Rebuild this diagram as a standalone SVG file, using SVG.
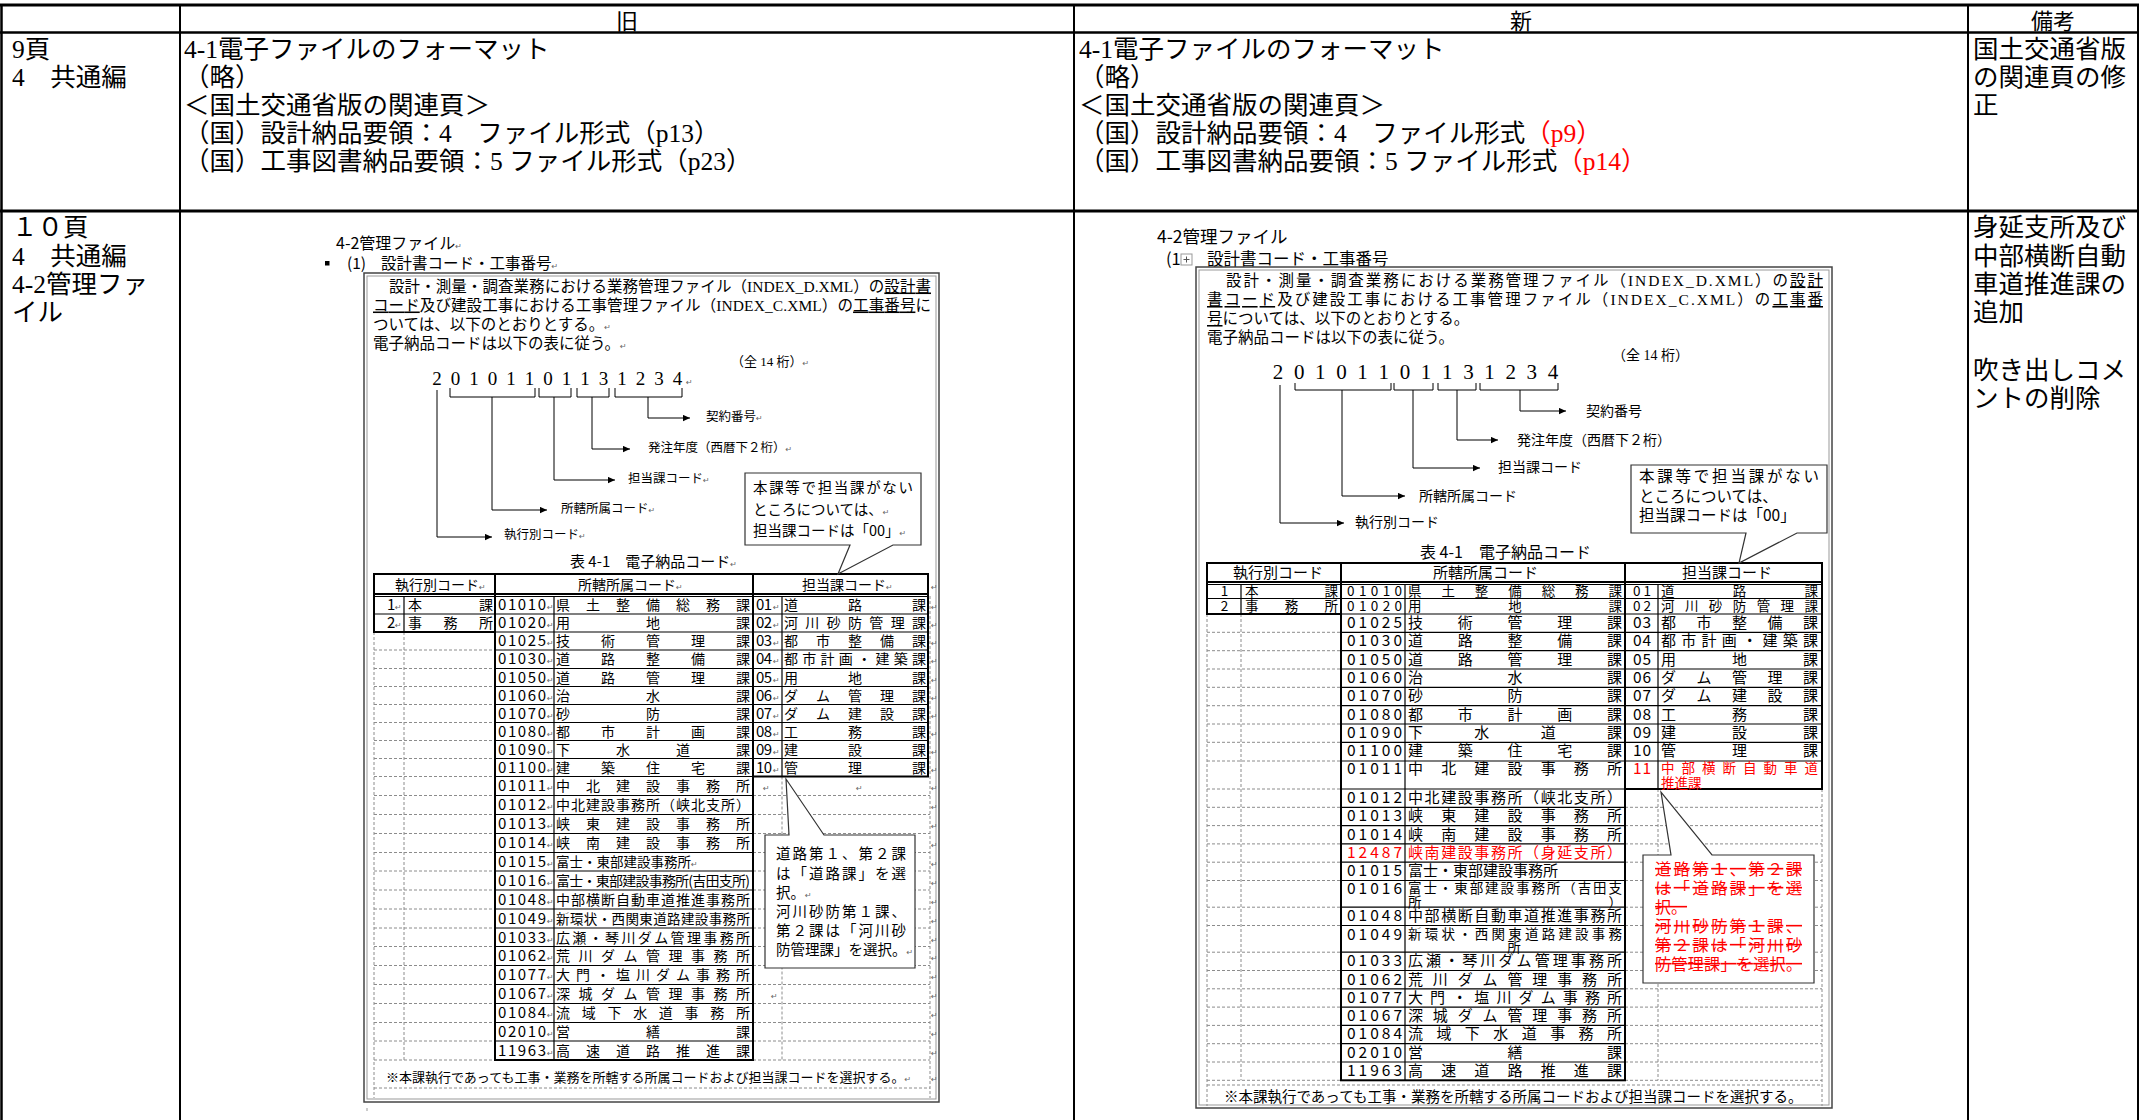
<svg xmlns="http://www.w3.org/2000/svg" width="2139" height="1120" viewBox="0 0 2139 1120">
<defs>
<style>
.m{font-family:"Liberation Serif","Noto Sans CJK JP",serif;font-size:25.5px;fill:#000}
.h{font-family:"Liberation Serif","Noto Sans CJK JP",serif;font-size:22px;text-anchor:middle;fill:#000}
.p{font-family:"Liberation Serif","Noto Sans CJK JP",serif;fill:#000}
.g{font-family:"Noto Sans CJK JP",sans-serif;fill:#000}
.red{fill:#ff0000}
.rt{font-family:"DejaVu Sans","Noto Sans CJK JP",sans-serif;font-size:8px;fill:#666}
.ln{stroke:#000;fill:none}
.ds{stroke:#8c8c8c;stroke-width:1;stroke-dasharray:3 2;fill:none}
.ul{text-decoration:underline}
.st{text-decoration:line-through}
.co{fill:#fff;stroke:#333;stroke-width:1.2}
.oc{font-size:15px}
.nc{font-size:15.5px}
.sm{font-size:13.5px}
.tp{font-size:13.5px}
</style>
<marker id="ah" viewBox="0 0 10 10" refX="10" refY="5" markerWidth="8" markerHeight="7" markerUnits="userSpaceOnUse" orient="auto"><path d="M0,0.5 L10,5 L0,9.5 z" fill="#000"/></marker>
</defs>
<rect x="0" y="0" width="2139" height="1120" fill="#fff"/>

<g id="table-frame" class="ln">
<line x1="0" y1="5" x2="2139" y2="5" stroke-width="3"/>
<line x1="0" y1="32.5" x2="2139" y2="32.5" stroke-width="2.5"/>
<line x1="0" y1="211" x2="2139" y2="211" stroke-width="3"/>
<line x1="1.5" y1="5" x2="1.5" y2="1120" stroke-width="2.5"/>
<line x1="180" y1="5" x2="180" y2="1120" stroke-width="2"/>
<line x1="1074" y1="5" x2="1074" y2="1120" stroke-width="2"/>
<line x1="1968" y1="5" x2="1968" y2="1120" stroke-width="2"/>
<line x1="2138" y1="5" x2="2138" y2="1120" stroke-width="2"/>
</g>

<g id="header">
<text class="h" x="627" y="29">旧</text>
<text class="h" x="1521" y="29">新</text>
<text class="h" x="2053" y="29">備考</text>
</g>

<g id="row1-page">
<text class="m" x="12" y="58">9頁</text>
<text class="m" x="12" y="86">4　共通編</text>
</g>
<g id="row1-old">
<text class="m" x="184" y="58">4-1電子ファイルのフォーマット</text>
<text class="m" x="184" y="86">（略）</text>
<text class="m" x="184" y="114">＜国土交通省版の関連頁＞</text>
<text class="m" x="184" y="142">（国）設計納品要領：4　ファイル形式（p13）</text>
<text class="m" x="184" y="170">（国）工事図書納品要領：5 ファイル形式（p23）</text>
</g>
<g id="row1-new">
<text class="m" x="1079" y="58">4-1電子ファイルのフォーマット</text>
<text class="m" x="1079" y="86">（略）</text>
<text class="m" x="1079" y="114">＜国土交通省版の関連頁＞</text>
<text class="m" x="1079" y="142">（国）設計納品要領：4　ファイル形式<tspan class="red">（p9）</tspan></text>
<text class="m" x="1079" y="170">（国）工事図書納品要領：5 ファイル形式<tspan class="red">（p14）</tspan></text>
</g>
<g id="row1-note">
<text class="m" x="1973" y="58">国土交通省版</text>
<text class="m" x="1973" y="86">の関連頁の修</text>
<text class="m" x="1973" y="114">正</text>
</g>

<g id="row2-page">
<text class="m" x="12" y="236">１０頁</text>
<text class="m" x="12" y="265">4　共通編</text>
<text class="m" x="12" y="293">4-2管理ファ</text>
<text class="m" x="12" y="321">イル</text>
</g>
<g id="row2-note">
<text class="m" x="1973" y="236">身延支所及び</text>
<text class="m" x="1973" y="265">中部横断自動</text>
<text class="m" x="1973" y="293">車道推進課の</text>
<text class="m" x="1973" y="321">追加</text>
<text class="m" x="1973" y="379">吹き出しコメ</text>
<text class="m" x="1973" y="407">ントの削除</text>
</g>

<!-- ================= OLD embedded figure ================= -->
<g id="old-figure">
<text class="g" x="336" y="248.5" font-size="16">4-2管理ファイル<tspan class="rt">↵</tspan></text>
<rect x="325" y="261" width="4.5" height="4.5" fill="#000"/>
<text class="g" x="347" y="269" font-size="15.5">(1)</text>
<text class="g" x="381" y="269" font-size="15.5">設計書コード・工事番号<tspan class="rt">↵</tspan></text>
<rect x="364" y="273" width="575" height="829" fill="none" stroke="#444" stroke-width="1.5"/>
<rect x="367" y="276" width="569" height="823" fill="none" stroke="#999" stroke-width="1"/>
<g font-size="15.5">
<text class="p" x="389" y="291.5" textLength="542">設計・測量・調査業務における業務管理ファイル（INDEX_D.XML）の<tspan class="ul">設計書</tspan></text>
<text class="p" x="373" y="310.5" textLength="558"><tspan class="ul">コード</tspan>及び建設工事における工事管理ファイル（INDEX_C.XML）の<tspan class="ul">工事番号</tspan>に</text>
<text class="p" x="373" y="330">ついては、以下のとおりとする。<tspan class="rt">↵</tspan></text>
<text class="p" x="373" y="349">電子納品コードは以下の表に従う。<tspan class="rt">↵</tspan></text>
</g>
<text class="p" x="731" y="366" font-size="13">（全 14 桁）<tspan class="rt">↵</tspan></text>
<g class="p" font-size="19" text-anchor="middle">
<text x="437" y="385">2</text><text x="455.5" y="385">0</text><text x="474" y="385">1</text><text x="492.5" y="385">0</text><text x="511" y="385">1</text><text x="529.5" y="385">1</text><text x="548" y="385">0</text><text x="566.5" y="385">1</text><text x="585" y="385">1</text><text x="603.5" y="385">3</text><text x="622" y="385">1</text><text x="640.5" y="385">2</text><text x="659" y="385">3</text><text x="677.5" y="385">4</text>
</g>
<text class="rt" x="686" y="385">↵</text>
<g class="g" font-size="12.5">
<text x="706" y="420.5">契約番号<tspan class="rt">↵</tspan></text>
<text x="648" y="451.5">発注年度（西暦下２桁）<tspan class="rt">↵</tspan></text>
<text x="628" y="482.5">担当課コード<tspan class="rt">↵</tspan></text>
<text x="561" y="512.5">所轄所属コード<tspan class="rt">↵</tspan></text>
<text x="504" y="539">執行別コード<tspan class="rt">↵</tspan></text>
</g>
<text class="g" x="570" y="567" font-size="15">表 4-1　電子納品コード<tspan class="rt">↵</tspan></text>
</g>

<g id="old-connectors" class="ln" stroke-width="1">
<path d="M450,388 V397 H535 V388"/>
<path d="M539,388 V397 H571 V388"/>
<path d="M577,388 V397 H609 V388"/>
<path d="M615,388 V397 H682 V388"/>
<path d="M437,390 V537 H492" marker-end="url(#ah)"/>
<path d="M492,397 V510 H547" marker-end="url(#ah)"/>
<path d="M554,397 V480 H615" marker-end="url(#ah)"/>
<path d="M592,397 V449 H630" marker-end="url(#ah)"/>
<path d="M648,397 V418 H690" marker-end="url(#ah)"/>
</g>

<g id="old-table-dashed">
<path class="ds" d="M374,650H495M374,668.5H495M374,686.5H495M374,704.5H495M374,722.5H495M374,740.5H495M374,758.5H495M374,776.5H495M374,795.5H495M374,814.5H495M374,833.5H495M374,852.5H495M374,871H495M374,890H495M374,909H495M374,928H495M374,946.5H495M374,965.5H495M374,984.5H495M374,1003.5H495M374,1022.5H495M374,1041H495M374,1060H495M374,1088H930"/>
<path class="ds" d="M753,795.5H930M753,814.5H930M753,833.5H930M753,852.5H930M753,871H930M753,890H930M753,909H930M753,928H930M753,946.5H930M753,965.5H930M753,984.5H930M753,1003.5H930M753,1022.5H930M753,1041H930M753,1060H930"/>
<path class="ds" d="M374,632V1098M404,632V1060M782,776.5V1060M930,596V1098"/>
</g>
<g id="old-table-solid" class="ln">
<rect x="374" y="574" width="554" height="20" stroke-width="2"/>
<line x1="374" y1="596.5" x2="928" y2="596.5" stroke-width="1.2"/>
<rect x="495" y="574" width="258" height="486" stroke-width="2"/>
<rect x="753" y="574" width="175" height="202.5" stroke-width="2"/>
<rect x="374" y="574" width="121" height="58" stroke-width="2"/>
<path stroke-width="1.2" d="M374,614H495M404,596V632M554,596V1060M782,596V776.5"/>
<path stroke-width="1.2" d="M495,614H753M495,632H753M495,650H753M495,668.5H753M495,686.5H753M495,704.5H753M495,722.5H753M495,740.5H753M495,758.5H753M495,776.5H753M495,795.5H753M495,814.5H753M495,833.5H753M495,852.5H753M495,871H753M495,890H753M495,909H753M495,928H753M495,946.5H753M495,965.5H753M495,984.5H753M495,1003.5H753M495,1022.5H753M495,1041H753"/>
<path stroke-width="1.2" d="M753,614H928M753,632H928M753,650H928M753,668.5H928M753,686.5H928M753,704.5H928M753,722.5H928M753,740.5H928M753,758.5H928"/>
</g>

<g id="old-table-text" class="g" font-size="14">
<text x="395" y="589.5">執行別コード<tspan class="rt">↵</tspan></text>
<text x="578" y="589.5">所轄所属コード<tspan class="rt">↵</tspan></text>
<text x="802" y="589.5">担当課コード<tspan class="rt">↵</tspan></text>
<text class="oc" x="387" y="610">1</text><text class="rt" x="395" y="610">↵</text><text x="408" y="610" textLength="85">本課</text>
<text class="oc" x="387" y="628">2</text><text class="rt" x="395" y="628">↵</text><text x="408" y="628" textLength="85">事務所</text>

<text class="oc" x="498" y="610" textLength="48">01010</text><text x="556" y="610" textLength="194">県土整備総務課</text>
<text class="oc" x="498" y="628" textLength="48">01020</text><text x="556" y="628" textLength="194">用地課</text>
<text class="oc" x="498" y="646" textLength="48">01025</text><text x="556" y="646" textLength="194">技術管理課</text>
<text class="oc" x="498" y="664" textLength="48">01030</text><text x="556" y="664" textLength="194">道路整備課</text>
<text class="oc" x="498" y="682.5" textLength="48">01050</text><text x="556" y="682.5" textLength="194">道路管理課</text>
<text class="oc" x="498" y="700.5" textLength="48">01060</text><text x="556" y="700.5" textLength="194">治水課</text>
<text class="oc" x="498" y="718.5" textLength="48">01070</text><text x="556" y="718.5" textLength="194">砂防課</text>
<text class="oc" x="498" y="736.5" textLength="48">01080</text><text x="556" y="736.5" textLength="194">都市計画課</text>
<text class="oc" x="498" y="754.5" textLength="48">01090</text><text x="556" y="754.5" textLength="194">下水道課</text>
<text class="oc" x="498" y="772.5" textLength="48">01100</text><text x="556" y="772.5" textLength="194">建築住宅課</text>
<text class="oc" x="498" y="791" textLength="48">01011</text><text x="556" y="791" textLength="194">中北建設事務所</text>
<text class="oc" x="498" y="810" textLength="48">01012</text><text x="556" y="810" textLength="194">中北建設事務所（峡北支所）</text>
<text class="oc" x="498" y="829" textLength="48">01013</text><text x="556" y="829" textLength="194">峡東建設事務所</text>
<text class="oc" x="498" y="848" textLength="48">01014</text><text x="556" y="848" textLength="194">峡南建設事務所</text>
<text class="oc" x="498" y="867" textLength="48">01015</text><text x="556" y="867" font-size="13.5">富士・東部建設事務所<tspan class="rt">↵</tspan></text>
<text class="oc" x="498" y="885.5" textLength="48">01016</text><text x="556" y="885.5" textLength="194">富士・東部建設事務所(吉田支所)</text>
<text class="oc" x="498" y="904.5" textLength="48">01048</text><text x="556" y="904.5" textLength="194">中部横断自動車道推進事務所</text>
<text class="oc" x="498" y="923.5" textLength="48">01049</text><text x="556" y="923.5" textLength="194" font-size="13.5">新環状・西関東道路建設事務所</text>
<text class="oc" x="498" y="942.5" textLength="48">01033</text><text x="556" y="942.5" textLength="194">広瀬・琴川ダム管理事務所</text>
<text class="oc" x="498" y="961" textLength="48">01062</text><text x="556" y="961" textLength="194">荒川ダム管理事務所</text>
<text class="oc" x="498" y="980" textLength="48">01077</text><text x="556" y="980" textLength="194">大門・塩川ダム事務所</text>
<text class="oc" x="498" y="999" textLength="48">01067</text><text x="556" y="999" textLength="194">深城ダム管理事務所</text>
<text class="oc" x="498" y="1018" textLength="48">01084</text><text x="556" y="1018" textLength="194">流域下水道事務所</text>
<text class="oc" x="498" y="1037" textLength="48">02010</text><text x="556" y="1037" textLength="194">営繕課</text>
<text class="oc" x="498" y="1055.5" textLength="48">11963</text><text x="556" y="1055.5" textLength="194">高速道路推進課</text>

<text class="oc" x="756" y="610" textLength="16">01</text><text x="784" y="610" textLength="142">道路課</text>
<text class="oc" x="756" y="628" textLength="16">02</text><text x="784" y="628" textLength="142">河川砂防管理課</text>
<text class="oc" x="756" y="646" textLength="16">03</text><text x="784" y="646" textLength="142">都市整備課</text>
<text class="oc" x="756" y="664" textLength="16">04</text><text x="784" y="664" textLength="142">都市計画・建築課</text>
<text class="oc" x="756" y="682.5" textLength="16">05</text><text x="784" y="682.5" textLength="142">用地課</text>
<text class="oc" x="756" y="700.5" textLength="16">06</text><text x="784" y="700.5" textLength="142">ダム管理課</text>
<text class="oc" x="756" y="718.5" textLength="16">07</text><text x="784" y="718.5" textLength="142">ダム建設課</text>
<text class="oc" x="756" y="736.5" textLength="16">08</text><text x="784" y="736.5" textLength="142">工務課</text>
<text class="oc" x="756" y="754.5" textLength="16">09</text><text x="784" y="754.5" textLength="142">建設課</text>
<text class="oc" x="756" y="772.5" textLength="16">10</text><text x="784" y="772.5" textLength="142">管理課</text>
<text x="386" y="1081.5" font-size="13">※本課執行であっても工事・業務を所轄する所属コードおよび担当課コードを選択する。<tspan class="rt">↵</tspan></text>
</g>
<g id="old-table-marks" class="rt">
<text x="547" y="610">↵</text><text x="547" y="628">↵</text><text x="547" y="646">↵</text><text x="547" y="664">↵</text><text x="547" y="682.5">↵</text><text x="547" y="700.5">↵</text><text x="547" y="718.5">↵</text><text x="547" y="736.5">↵</text><text x="547" y="754.5">↵</text><text x="547" y="772.5">↵</text><text x="547" y="791">↵</text><text x="547" y="810">↵</text><text x="547" y="829">↵</text><text x="547" y="848">↵</text><text x="547" y="867">↵</text><text x="547" y="885.5">↵</text><text x="547" y="904.5">↵</text><text x="547" y="923.5">↵</text><text x="547" y="942.5">↵</text><text x="547" y="961">↵</text><text x="547" y="980">↵</text><text x="547" y="999">↵</text><text x="547" y="1018">↵</text><text x="547" y="1037">↵</text><text x="547" y="1055.5">↵</text>
<text x="773" y="610">↵</text><text x="773" y="628">↵</text><text x="773" y="646">↵</text><text x="773" y="664">↵</text><text x="773" y="682.5">↵</text><text x="773" y="700.5">↵</text><text x="773" y="718.5">↵</text><text x="773" y="736.5">↵</text><text x="773" y="754.5">↵</text><text x="773" y="772.5">↵</text>
<text x="763" y="791">↵</text><text x="856" y="791">↵</text><text x="771" y="999">↵</text>
<text x="931" y="589.5">↵</text><text x="931" y="610">↵</text><text x="931" y="628">↵</text><text x="931" y="646">↵</text><text x="931" y="664">↵</text><text x="931" y="682.5">↵</text><text x="931" y="700.5">↵</text><text x="931" y="718.5">↵</text><text x="931" y="736.5">↵</text><text x="931" y="754.5">↵</text><text x="931" y="772.5">↵</text><text x="931" y="791">↵</text><text x="931" y="810">↵</text><text x="931" y="829">↵</text><text x="931" y="848">↵</text><text x="931" y="867">↵</text><text x="931" y="885.5">↵</text><text x="931" y="904.5">↵</text><text x="931" y="923.5">↵</text><text x="931" y="942.5">↵</text><text x="931" y="961">↵</text><text x="931" y="980">↵</text><text x="931" y="999">↵</text><text x="931" y="1018">↵</text><text x="931" y="1037">↵</text><text x="931" y="1055.5">↵</text><text x="931" y="1081.5">↵</text>
</g>
<line x1="367" y1="1108" x2="367" y2="1111" stroke="#999" stroke-width="1"/>

<g id="old-callout-1">
<path class="co" d="M745,473 H921 V545 H893 L838,574 L850,545 H745 Z"/>
<g class="g" font-size="14.5">
<text x="753" y="493" textLength="160">本課等で担当課がない</text>
<text x="753" y="515">ところについては、<tspan class="rt">↵</tspan></text>
<text x="753" y="536">担当課コードは「00」<tspan class="rt">↵</tspan></text>
</g>
</g>
<g id="old-callout-2">
<path class="co" d="M765,835 H789 L786,779 L824,835 H915 V968 H765 Z"/>
<g class="g" font-size="14.5">
<text x="776" y="858.5" textLength="130">道路第１、第２課</text>
<text x="776" y="878.5" textLength="130">は「道路課」を選</text>
<text x="776" y="897.5">択。<tspan class="rt">↵</tspan></text>
<text x="776" y="916.5" textLength="130">河川砂防第１課、</text>
<text x="776" y="935.5" textLength="130">第２課は「河川砂</text>
<text x="776" y="954.5">防管理課」を選択。<tspan class="rt">↵</tspan></text>
</g>
</g>

<!-- ================= NEW embedded figure ================= -->
<g id="new-figure">
<text class="g" x="1157" y="243" font-size="17.5">4-2管理ファイル</text>
<text class="g" x="1166" y="265" font-size="16.5">(1</text>
<rect x="1181" y="254" width="11" height="11" fill="#fff" stroke="#999" stroke-width="1"/>
<path d="M1186.5,256.5V262.5M1183.5,259.5H1189.5" stroke="#555" stroke-width="1"/>
<text class="g" x="1207" y="265" font-size="16.5">設計書コード・工事番号</text>
<rect x="1196" y="267" width="636" height="841" fill="none" stroke="#444" stroke-width="1.5"/>
<rect x="1199" y="270" width="630" height="835" fill="none" stroke="#999" stroke-width="1"/>
<g font-size="15.5">
<text class="p" x="1226" y="285.5" textLength="597">設計・測量・調査業務における業務管理ファイル（INDEX_D.XML）の<tspan class="ul">設計</tspan></text>
<text class="p" x="1207" y="305" textLength="616"><tspan class="ul">書コード</tspan>及び建設工事における工事管理ファイル（INDEX_C.XML）の<tspan class="ul">工事番</tspan></text>
<text class="p" x="1207" y="324"><tspan class="ul">号</tspan>については、以下のとおりとする。</text>
<text class="p" x="1207" y="343">電子納品コードは以下の表に従う。</text>
</g>
<text class="p" x="1612" y="360" font-size="14">（全 14 桁）</text>
<g class="p" font-size="21" text-anchor="middle">
<text x="1278" y="379">2</text><text x="1299.2" y="379">0</text><text x="1320.3" y="379">1</text><text x="1341.5" y="379">0</text><text x="1362.6" y="379">1</text><text x="1383.8" y="379">1</text><text x="1404.9" y="379">0</text><text x="1426.1" y="379">1</text><text x="1447.2" y="379">1</text><text x="1468.4" y="379">3</text><text x="1489.5" y="379">1</text><text x="1510.7" y="379">2</text><text x="1531.8" y="379">3</text><text x="1553" y="379">4</text>
</g>
<g class="g" font-size="14">
<text x="1586" y="416">契約番号</text>
<text x="1517" y="445">発注年度（西暦下２桁）</text>
<text x="1498" y="472">担当課コード</text>
<text x="1419" y="501">所轄所属コード</text>
<text x="1355" y="527">執行別コード</text>
</g>
<text class="g" x="1420" y="558" font-size="16">表 4-1　電子納品コード</text>
</g>

<g id="new-connectors" class="ln" stroke-width="1">
<path d="M1295,383 V390 H1391 V383"/>
<path d="M1394,383 V390 H1433 V383"/>
<path d="M1438,383 V390 H1476 V383"/>
<path d="M1480,383 V390 H1558 V383"/>
<path d="M1280,385 V523 H1344" marker-end="url(#ah)"/>
<path d="M1342,390 V496 H1405" marker-end="url(#ah)"/>
<path d="M1413,390 V468 H1480" marker-end="url(#ah)"/>
<path d="M1457,390 V440 H1498" marker-end="url(#ah)"/>
<path d="M1520,390 V411 H1566" marker-end="url(#ah)"/>
</g>

<g id="new-table-dashed">
<path class="ds" d="M1207,632.3H1341M1207,650.7H1341M1207,669H1341M1207,687.3H1341M1207,705.7H1341M1207,724H1341M1207,742.3H1341M1207,761H1341M1207,789H1341M1207,807.3H1341M1207,825.6H1341M1207,843.9H1341M1207,862.2H1341M1207,880.5H1341M1207,907.2H1341M1207,925.5H1341M1207,952.2H1341M1207,970.5H1341M1207,988.8H1341M1207,1007.1H1341M1207,1025.4H1341M1207,1043.7H1341M1207,1062H1341M1207,1080.3H1341M1207,1085H1822"/>
<path class="ds" d="M1625,807.3H1822M1625,825.6H1822M1625,843.9H1822M1625,862.2H1822M1625,880.5H1822M1625,907.2H1822M1625,925.5H1822M1625,952.2H1822M1625,970.5H1822M1625,988.8H1822M1625,1007.1H1822M1625,1025.4H1822M1625,1043.7H1822M1625,1062H1822M1625,1080.3H1822"/>
<path class="ds" d="M1207,614V1106M1241,614V1080.3M1658,789V1080.3M1822,789V1106"/>
</g>
<g id="new-table-solid" class="ln">
<rect x="1207" y="563" width="615" height="19" stroke-width="2"/>
<line x1="1207" y1="584.5" x2="1822" y2="584.5" stroke-width="1.2"/>
<rect x="1341" y="563" width="284" height="517.3" stroke-width="2"/>
<rect x="1625" y="563" width="197" height="226" stroke-width="2"/>
<rect x="1207" y="563" width="134" height="51" stroke-width="2"/>
<path stroke-width="1.2" d="M1207,598.5H1341M1241,584V614M1405,584V1080.3M1658,584V789"/>
<path stroke-width="1.2" d="M1341,598.5H1625M1341,614H1625M1341,632.3H1625M1341,650.7H1625M1341,669H1625M1341,687.3H1625M1341,705.7H1625M1341,724H1625M1341,742.3H1625M1341,761H1625M1341,789H1625M1341,807.3H1625M1341,825.6H1625M1341,843.9H1625M1341,862.2H1625M1341,880.5H1625M1341,907.2H1625M1341,925.5H1625M1341,952.2H1625M1341,970.5H1625M1341,988.8H1625M1341,1007.1H1625M1341,1025.4H1625M1341,1043.7H1625M1341,1062H1625"/>
<path stroke-width="1.2" d="M1625,598.5H1822M1625,614H1822M1625,632.3H1822M1625,650.7H1822M1625,669H1822M1625,687.3H1822M1625,705.7H1822M1625,724H1822M1625,742.3H1822M1625,761H1822"/>
</g>

<g id="new-table-text" class="g" font-size="15">
<text x="1233" y="577.5">執行別コード</text>
<text x="1433" y="577.5">所轄所属コード</text>
<text x="1682" y="577.5">担当課コード</text>
<text class="tp" x="1224.5" y="596" text-anchor="middle">1</text><text class="tp" x="1245" y="596" textLength="93">本課</text>
<text class="tp" x="1224.5" y="611" text-anchor="middle">2</text><text class="tp" x="1245" y="611" textLength="93">事務所</text>

<text class="tp" x="1347" y="596" textLength="55">01010</text><text class="tp" x="1408" y="596" textLength="214">県土整備総務課</text>
<text class="tp" x="1347" y="611" textLength="55">01020</text><text class="tp" x="1408" y="611" textLength="214">用地課</text>
<text class="nc" x="1347" y="628" textLength="55">01025</text><text x="1408" y="628" textLength="214">技術管理課</text>
<text class="nc" x="1347" y="646.3" textLength="55">01030</text><text x="1408" y="646.3" textLength="214">道路整備課</text>
<text class="nc" x="1347" y="664.7" textLength="55">01050</text><text x="1408" y="664.7" textLength="214">道路管理課</text>
<text class="nc" x="1347" y="683" textLength="55">01060</text><text x="1408" y="683" textLength="214">治水課</text>
<text class="nc" x="1347" y="701.3" textLength="55">01070</text><text x="1408" y="701.3" textLength="214">砂防課</text>
<text class="nc" x="1347" y="719.7" textLength="55">01080</text><text x="1408" y="719.7" textLength="214">都市計画課</text>
<text class="nc" x="1347" y="738" textLength="55">01090</text><text x="1408" y="738" textLength="214">下水道課</text>
<text class="nc" x="1347" y="756.3" textLength="55">01100</text><text x="1408" y="756.3" textLength="214">建築住宅課</text>
<text class="nc" x="1347" y="774" textLength="55">01011</text><text x="1408" y="774" textLength="214">中北建設事務所</text>
<text class="nc" x="1347" y="803" textLength="55">01012</text><text x="1408" y="803" textLength="214">中北建設事務所（峡北支所）</text>
<text class="nc" x="1347" y="821.3" textLength="55">01013</text><text x="1408" y="821.3" textLength="214">峡東建設事務所</text>
<text class="nc" x="1347" y="839.6" textLength="55">01014</text><text x="1408" y="839.6" textLength="214">峡南建設事務所</text>
<text class="nc red" x="1347" y="857.9" textLength="55">12487</text><text class="red" x="1408" y="857.9" textLength="214">峡南建設事務所（身延支所）</text>
<text class="nc" x="1347" y="876.2" textLength="55">01015</text><text x="1408" y="876.2">富士・東部建設事務所</text>
<text class="nc" x="1347" y="893.5" textLength="55">01016</text><text class="sm" x="1408" y="893" textLength="214">富士・東部建設事務所（吉田支</text>
<text class="sm" x="1408" y="906.5">所</text><text class="sm" x="1622" y="906.5" text-anchor="end">）</text>
<text class="nc" x="1347" y="921.2" textLength="55">01048</text><text x="1408" y="921.2" textLength="214">中部横断自動車道推進事務所</text>
<text class="nc" x="1347" y="939.5" textLength="55">01049</text><text class="sm" x="1408" y="938.5" textLength="214">新環状・西関東道路建設事務</text>
<text class="sm" x="1514" y="952" text-anchor="middle">所</text>
<text class="nc" x="1347" y="966.2" textLength="55">01033</text><text x="1408" y="966.2" textLength="214">広瀬・琴川ダム管理事務所</text>
<text class="nc" x="1347" y="984.5" textLength="55">01062</text><text x="1408" y="984.5" textLength="214">荒川ダム管理事務所</text>
<text class="nc" x="1347" y="1002.8" textLength="55">01077</text><text x="1408" y="1002.8" textLength="214">大門・塩川ダム事務所</text>
<text class="nc" x="1347" y="1021.1" textLength="55">01067</text><text x="1408" y="1021.1" textLength="214">深城ダム管理事務所</text>
<text class="nc" x="1347" y="1039.4" textLength="55">01084</text><text x="1408" y="1039.4" textLength="214">流域下水道事務所</text>
<text class="nc" x="1347" y="1057.7" textLength="55">02010</text><text x="1408" y="1057.7" textLength="214">営繕課</text>
<text class="nc" x="1347" y="1076" textLength="55">11963</text><text x="1408" y="1076" textLength="214">高速道路推進課</text>

<text class="tp" x="1633" y="596" textLength="18">01</text><text class="tp" x="1661" y="596" textLength="157">道路課</text>
<text class="tp" x="1633" y="611" textLength="18">02</text><text class="tp" x="1661" y="611" textLength="157">河川砂防管理課</text>
<text class="nc" x="1633" y="628" textLength="18">03</text><text x="1661" y="628" textLength="157">都市整備課</text>
<text class="nc" x="1633" y="646.3" textLength="18">04</text><text x="1661" y="646.3" textLength="157">都市計画・建築課</text>
<text class="nc" x="1633" y="664.7" textLength="18">05</text><text x="1661" y="664.7" textLength="157">用地課</text>
<text class="nc" x="1633" y="683" textLength="18">06</text><text x="1661" y="683" textLength="157">ダム管理課</text>
<text class="nc" x="1633" y="701.3" textLength="18">07</text><text x="1661" y="701.3" textLength="157">ダム建設課</text>
<text class="nc" x="1633" y="719.7" textLength="18">08</text><text x="1661" y="719.7" textLength="157">工務課</text>
<text class="nc" x="1633" y="738" textLength="18">09</text><text x="1661" y="738" textLength="157">建設課</text>
<text class="nc" x="1633" y="756.3" textLength="18">10</text><text x="1661" y="756.3" textLength="157">管理課</text>
<text class="nc red" x="1633" y="774" textLength="18">11</text><text class="sm red" x="1661" y="773" textLength="157">中部横断自動車道</text>
<text class="sm red" x="1661" y="787.5">推進課</text>
<text x="1224" y="1102" font-size="14.5">※本課執行であっても工事・業務を所轄する所属コードおよび担当課コードを選択する。</text>
</g>

<g id="new-callout-1">
<path class="co" d="M1631,465 H1827 V533 H1797 L1739,563 L1746,533 H1631 Z"/>
<g class="g" font-size="15.5">
<text x="1639" y="482" textLength="180">本課等で担当課がない</text>
<text x="1639" y="502">ところについては、</text>
<text x="1639" y="521">担当課コードは「00」</text>
</g>
</g>
<g id="new-callout-2">
<path class="co" d="M1643,855 H1671 L1661,792 L1712,855 H1814 V983 H1643 Z"/>
<g class="g red st" font-size="16">
<text x="1655" y="875" textLength="147">道路第１、第２課</text>
<text x="1655" y="894" textLength="147">は「道路課」を選</text>
<text x="1655" y="913">択。</text>
<text x="1655" y="932" textLength="147">河川砂防第１課、</text>
<text x="1655" y="951" textLength="147">第２課は「河川砂</text>
<text x="1655" y="970" textLength="147">防管理課」を選択。</text>
</g>
</g>
</svg>
